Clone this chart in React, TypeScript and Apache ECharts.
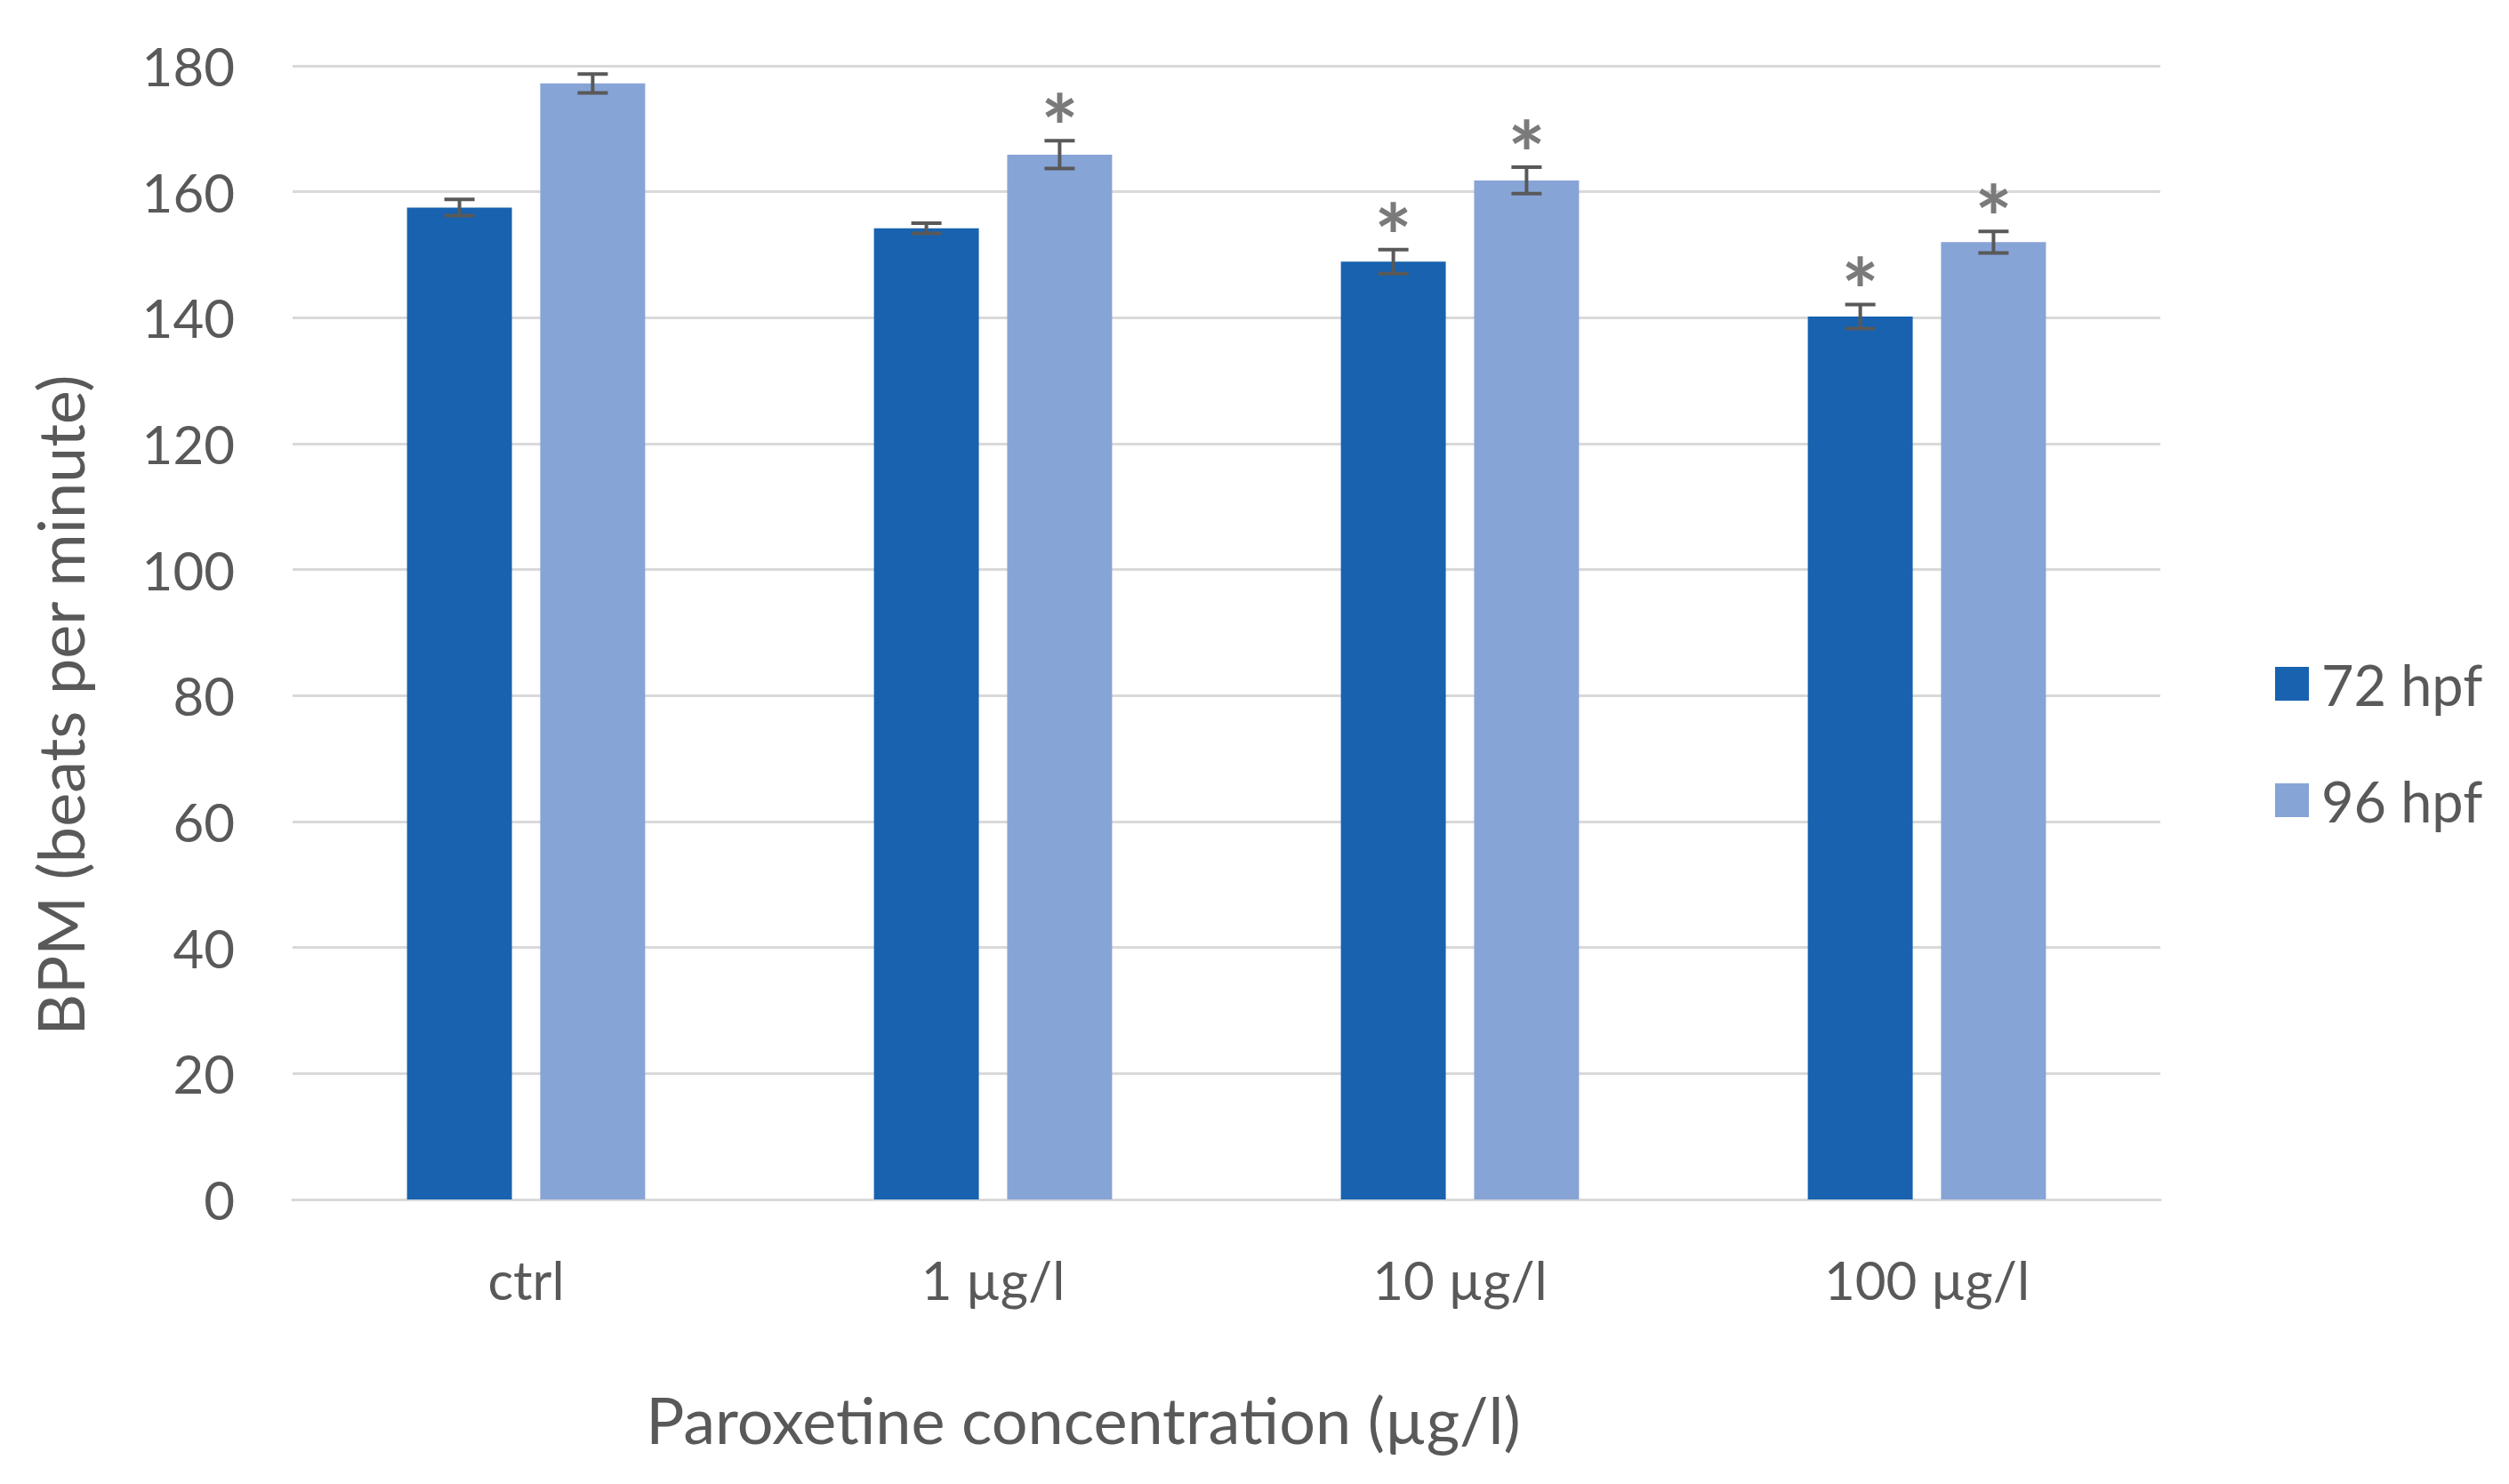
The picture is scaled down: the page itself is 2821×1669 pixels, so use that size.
import React, { useEffect, useRef } from "react";
import * as echarts from "echarts";

const categories = ["ctrl", "1 µg/l", "10 µg/l", "100 µg/l"];
const seriesNames = ["72 hpf", "96 hpf"];
const bpm72 = [157.5, 154.2, 148.9, 140.2];
const bpm96 = [177.2, 165.9, 161.8, 152.0];
const err72 = [1.3, 0.8, 1.9, 1.9];
const err96 = [1.5, 2.2, 2.1, 1.7];
const sig72 = [0, 0, 1, 1];
const sig96 = [0, 1, 1, 1];
const yTicks = { min: 0, max: 180, interval: 20 };
const xTitle = "Paroxetine concentration (µg/l)";
const yTitle = "BPM (beats per minute)";

const COLORS = ["#1862AF", "#87A4D7"];
const TEXT = "#595959";
const FONT = "Lato";
const CAT_GAP = 0.49;
const BAR_GAP = 0.27;

export default function App() {
  const ref = useRef<HTMLDivElement>(null);
  useEffect(() => {
    document.body.style.margin = "0";
    document.body.style.overflow = "hidden";
    const chart = echarts.init(ref.current!, null, { renderer: "svg" });

    const errData = (vals: number[], errs: number[], sig: number[]) =>
      vals.map((v, i) => [i, v, errs[i], sig[i]]);

    const makeRender = (seriesIdx: number) => (params: any, api: any) => {
      const idx = api.value(0);
      const mean = api.value(1);
      const e = api.value(2);
      const s = api.value(3);
      const band = api.size([1, 0])[0];
      const barW = (band * (1 - CAT_GAP)) / (2 + BAR_GAP);
      const off = ((barW * (1 + BAR_GAP)) / 2) * (seriesIdx === 0 ? -1 : 1);
      const top = api.coord([idx, mean + e]);
      const bot = api.coord([idx, mean - e]);
      const x = top[0] + off;
      const capHalf = 17;
      const st = { stroke: "#595959", lineWidth: 4 };
      const children: any[] = [
        { type: "line", shape: { x1: x, y1: top[1], x2: x, y2: bot[1] }, style: st },
        { type: "line", shape: { x1: x - capHalf, y1: top[1], x2: x + capHalf, y2: top[1] }, style: st },
        { type: "line", shape: { x1: x - capHalf, y1: bot[1], x2: x + capHalf, y2: bot[1] }, style: st },
      ];
      if (s) {
        children.push({
          type: "text",
          style: {
            text: "*",
            x: x,
            y: top[1] - 17,
            align: "center",
            verticalAlign: "middle",
            fontSize: 100,
            fontFamily: FONT,
            fontWeight: "bold",
            fill: "#7A7A7A",
          },
        });
      }
      return { type: "group", children };
    };

    chart.setOption({
      animation: false,
      backgroundColor: "#ffffff",
      textStyle: { fontFamily: FONT, color: TEXT },
      grid: { left: 329, right: 392, top: 74, bottom: 320, containLabel: false },
      legend: {
        orient: "vertical",
        left: 2553,
        top: 732,
        itemWidth: 38,
        itemHeight: 38,
        itemGap: 67,
        icon: "rect",
        data: seriesNames,
        textStyle: { fontSize: 63, color: TEXT, fontFamily: FONT, lineHeight: 64, padding: [0, 0, 0, 9] },
      },
      xAxis: {
        type: "category",
        data: categories,
        axisLine: { show: true, lineStyle: { color: "#D9D9D9", width: 3 } },
        axisTick: { show: false },
        axisLabel: { fontSize: 60, color: TEXT, margin: 60, fontFamily: FONT },
        splitLine: { show: false },
      },
      yAxis: {
        type: "value",
        min: yTicks.min,
        max: yTicks.max,
        interval: yTicks.interval,
        axisLine: { show: false },
        axisTick: { show: false },
        axisLabel: { fontSize: 60, color: TEXT, margin: 65, fontFamily: FONT },
        splitLine: { lineStyle: { color: "#D9D9D9", width: 3 } },
      },
      series: [
        {
          name: seriesNames[0],
          type: "bar",
          data: bpm72,
          itemStyle: { color: COLORS[0] },
          barGap: `${BAR_GAP * 100}%`,
          barCategoryGap: `${CAT_GAP * 100}%`,
        },
        {
          name: seriesNames[1],
          type: "bar",
          data: bpm96,
          itemStyle: { color: COLORS[1] },
          barGap: `${BAR_GAP * 100}%`,
          barCategoryGap: `${CAT_GAP * 100}%`,
        },
        {
          type: "custom",
          name: "err72",
          renderItem: makeRender(0),
          data: errData(bpm72, err72, sig72),
          encode: { x: 0, y: 1 },
          z: 5,
          silent: true,
        },
        {
          type: "custom",
          name: "err96",
          renderItem: makeRender(1),
          data: errData(bpm96, err96, sig96),
          encode: { x: 0, y: 1 },
          z: 5,
          silent: true,
        },
      ],
      graphic: [
        {
          type: "text",
          x: 1218,
          y: 1596,
          style: {
            text: xTitle,
            fontSize: 72,
            fontFamily: FONT,
            fill: TEXT,
            align: "center",
            verticalAlign: "middle",
          },
        },
        {
          type: "text",
          x: 67,
          y: 793,
          rotation: Math.PI / 2,
          style: {
            text: yTitle,
            fontSize: 72,
            fontFamily: FONT,
            fill: TEXT,
            align: "center",
            verticalAlign: "middle",
          },
        },
      ],
    });
    return () => chart.dispose();
  }, []);
  return <div ref={ref} style={{ width: 2821, height: 1669 }} />;
}
